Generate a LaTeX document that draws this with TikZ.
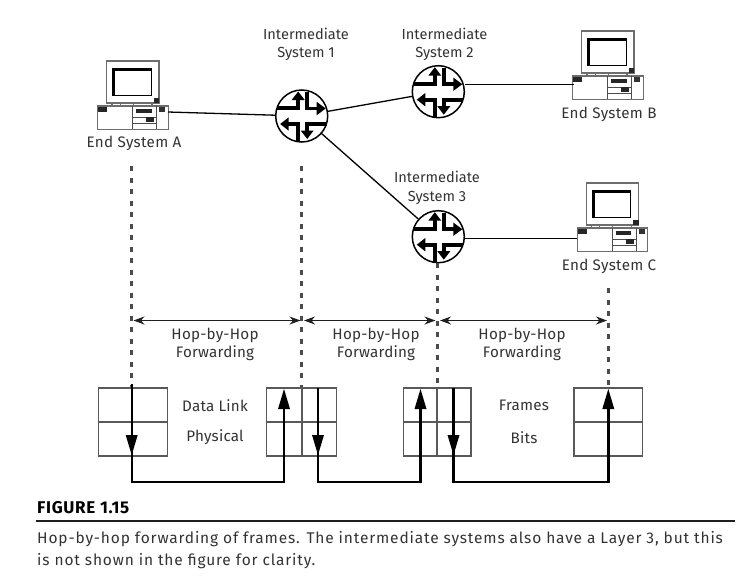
\documentclass[tikz,border=0pt]{standalone}
\usepackage{fontspec}
\setmainfont{Fira Sans}
\usetikzlibrary{arrows.meta}
\definecolor{ink}{gray}{0.12}
\definecolor{txt}{gray}{0.2}
\definecolor{boxgray}{gray}{0.35}
\tikzset{
  x=1pt,y=-1pt,
  lbl/.style={font=\fontsize{14.6}{18.5}\selectfont,text=txt,align=center,inner sep=0pt},
  wlbl/.style={font=\fontsize{15.2}{18.5}\selectfont\addfontfeatures{LetterSpace=1.5},text=txt,align=center,inner sep=0pt},
  endlbl/.style={font=\fontsize{15.2}{18.5}\selectfont\addfontfeatures{LetterSpace=2},text=txt,align=center,inner sep=0pt},
  caplbl/.style={anchor=base west,inner sep=0pt,font=\fontsize{15.5}{17}\selectfont\addfontfeatures{LetterSpace=5.4},text=txt},
  routernode/.style={circle,draw=black,line width=1.5pt,fill=white,minimum size=52pt,inner sep=0pt},
  link/.style={black,line width=1.3pt},
  vdash/.style={ink!80!white,line width=3pt,dash pattern=on 5pt off 6.5pt},
  hop/.style={ink,line width=1.2pt,{Stealth[length=11pt,width=8pt]}-{Stealth[length=11pt,width=8pt]}},
  flow/.style={black,line width=2.4pt},
  flowhead/.style={fill=black,draw=none},
  grid/.style={boxgray,line width=1.3pt},
  routerpic/.pic={
    \draw[black,line width=3.7pt] (-25,-8) -- (-3.5,-8) -- (-3.5,-17);
    \fill[black] (-3.5,-24.5) -- (-10,-16) -- (3,-16) -- cycle;
    \draw[black,line width=3.7pt] (5.5,-24) -- (5.5,-7.5) -- (16,-7.5);
    \fill[black] (24,-7.5) -- (15,-14.2) -- (15,-0.8) -- cycle;
    \draw[black,line width=3.7pt] (-3.5,25) -- (-3.5,8) -- (-14,8);
    \fill[black] (-21.5,8) -- (-13,1.3) -- (-13,14.7) -- cycle;
    \draw[black,line width=3.7pt] (25,8) -- (5.5,8) -- (5.5,16);
    \fill[black] (5.5,23) -- (-1,14.5) -- (12,14.5) -- cycle;
  },
  computerpic/.pic={
    \draw[ink!65!white,line width=1.3pt] (-25.3,-34) rectangle (27,8);
    \fill[black] (-20,-27.3) rectangle (19.7,1);
    \fill[white] (-17,-24.3) rectangle (18.5,-0.3);
    \fill[black!85] (21.7,3.3) rectangle (27,8);
    \draw[ink!65!white,line width=1.1pt] (-20,8) rectangle (20,11);
    \draw[ink!65!white,line width=.9pt] (-12,8) -- (-12,11) (1,8) -- (1,11);
    \draw[ink!65!white,line width=1.3pt] (-34.3,11) rectangle (36.3,34.3);
    \fill[black!85] (-33.7,12.3) rectangle (-24.7,16.7);
    \draw[black!70,line width=1.2pt] (0.7,11) -- (0.7,34.3) (24.7,11) -- (24.7,34.3);
    \fill[black!85] (4,14.3) rectangle (19.7,17.6);
    \draw[black!70,line width=1pt] (0.7,22) -- (24.7,22) (0.7,28) -- (24.7,28);
    \fill[black!85] (14,22.3) rectangle (22,26.7);
    \fill[black!80] (27.3,12.3) rectangle (33,17.3);
  },
}
\begin{document}
\begin{tikzpicture}
\useasboundingbox (0,0) rectangle (752,576);
% hosts
\coordinate (pcA) at (132,95);
\coordinate (pcB) at (607,65);
\coordinate (pcC) at (611.5,217);
\pic at (pcA) {computerpic};
\pic at (pcB) {computerpic};
\pic at (pcC) {computerpic};
\coordinate (portA) at (168,112);
\coordinate (portB) at (574,84.5);
\coordinate (portC) at (577,238.5);
% routers
\node[routernode] (r1) at (301.7,116) {};
\node[routernode] (r2) at (438.3,91.7) {};
\node[routernode] (r3) at (438.3,236.7) {};
\pic at (r1) {routerpic};
\pic at (r2) {routerpic};
\pic at (r3) {routerpic};
\draw[link] (portA) -- (r1);
\draw[link] (r1) -- (r2);
\draw[link] (r1) -- (r3);
\draw[link] (r2.east |- portB) -- (portB);
\draw[link] (r3.east |- portC) -- (portC);
% labels
\node[endlbl] (tA) at (134,143) {End System A};
\node[endlbl] (tB) at (609,114) {End System B};
\node[endlbl] (tC) at (609,266) {End System C};
\node[lbl] (t1) at (306,44.5) {Intermediate\\System 1};
\node[lbl] (t2) at (444.5,44.5) {Intermediate\\System 2};
\node[lbl] (t3) at (437,188) {Intermediate\\System 3};
% vertical dashed
\coordinate (d1t) at (131.7,166);
\coordinate (d1b) at (131.7,388);
\coordinate (d2t) at (301.7,166);
\coordinate (d2b) at (301.7,388);
\coordinate (d3b) at (437.3,388);
\coordinate (d4t) at (608.3,288);
\coordinate (d4b) at (608.3,388);
\draw[vdash] (d1t) -- (d1b);
\draw[vdash] (d2t) -- (d2b);
\draw[vdash] (r3.south -| d3b) -- (d3b);
\draw[vdash] (d4t) -- (d4b);
% hop arrows
\coordinate (h1) at (133.5,320.5);
\coordinate (h2) at (300.5,320.5);
\coordinate (h3) at (304,320.5);
\coordinate (h4) at (435.5,320.5);
\coordinate (h5) at (440,320.5);
\coordinate (h6) at (607,320.5);
\draw[hop] (h1) -- (h2);
\draw[hop] (h3) -- (h4);
\draw[hop] (h5) -- (h6);
\node[wlbl] (f1) at (215,344.5) {Hop-by-Hop\\Forwarding};
\node[wlbl] (f2) at (376,344.5) {Hop-by-Hop\\Forwarding};
\node[wlbl] (f3) at (522,344.5) {Hop-by-Hop\\Forwarding};
% stacks
\draw[grid] (98.3,388) rectangle (167.3,456) (98.3,422) -- (167.3,422);
\draw[grid] (266.7,388) rectangle (336.7,456) (266.7,422) -- (336.7,422) (302,388) -- (302,456);
\draw[grid] (403.3,388) rectangle (471,456) (403.3,422) -- (471,422) (437,388) -- (437,456);
\draw[grid] (574,388) rectangle (642.5,456) (574,422) -- (642.5,422);
\node[wlbl] (dl) at (215,405.5) {Data Link};
\node[wlbl] (ph) at (215,437.5) {Physical};
\node[wlbl] (fr) at (524,405.5) {Frames};
\node[wlbl] (bt) at (524,437.5) {Bits};
% flows
\coordinate (a1) at (131.7,384);
\coordinate (a2) at (131.7,482);
\coordinate (a3) at (284,482);
\coordinate (a4) at (284,400);
\coordinate (b1) at (318,388);
\coordinate (b2) at (318,482);
\coordinate (b3) at (420.5,482);
\coordinate (b4) at (420.5,400);
\coordinate (c1) at (453.5,388);
\coordinate (c2) at (453.5,482);
\coordinate (c3) at (608.3,482);
\coordinate (c4) at (608.3,400);
\draw[flow] (a1) -- (a2) -- (a3) -- (a4);
\draw[flow] (b1) -- (b2) -- (b3) -- (b4);
\draw[flow] (c1) -- (c2) -- (c3) -- (c4);
\fill[flowhead] (131.7,455) -- (125.7,435) -- (137.7,435) -- cycle;
\fill[flowhead] (318,455) -- (312,435) -- (324,435) -- cycle;
\fill[flowhead] (453.5,455) -- (447.5,435) -- (459.5,435) -- cycle;
\fill[flowhead] (284,389) -- (278,409) -- (290,409) -- cycle;
\fill[flowhead] (420.5,389) -- (414.5,409) -- (426.5,409) -- cycle;
\fill[flowhead] (608.3,389) -- (602.3,409) -- (614.3,409) -- cycle;
% caption
\node[anchor=base west,inner sep=0pt,font=\fontsize{17}{19}\selectfont\bfseries\addfontfeatures{LetterSpace=4},text=black] (cap) at (37,513) {FIGURE 1.15};
\coordinate (ruleL) at (36,521);
\coordinate (ruleR) at (735,521);
\draw[ink,line width=1.6pt] (ruleL) -- (ruleR);
\node[caplbl] (c1t) at (37,543) {Hop-by-hop forwarding of frames. The intermediate systems also have a Layer 3, but this};
\node[caplbl] (c2t) at (37,565) {is not shown in the figure for clarity.};
\end{tikzpicture}
\end{document}
